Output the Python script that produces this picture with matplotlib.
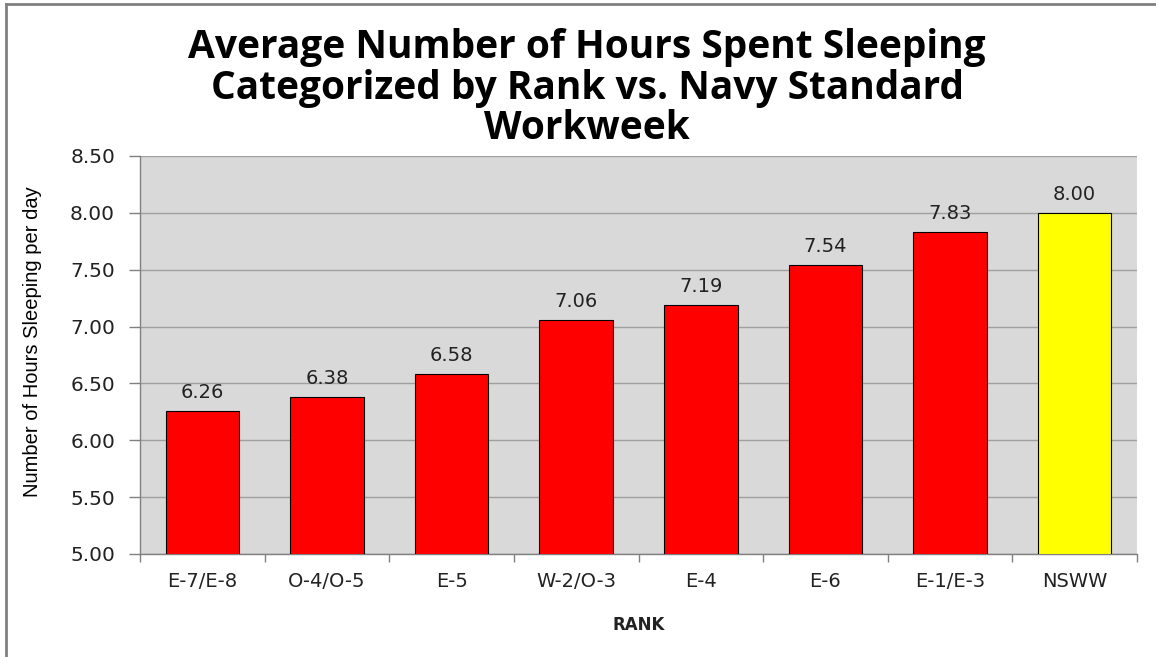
import matplotlib
matplotlib.use("Agg")
import matplotlib.pyplot as plt
from matplotlib.lines import Line2D
import numpy as np

categories = ["E-7/E-8", "O-4/O-5", "E-5", "W-2/O-3", "E-4", "E-6", "E-1/E-3", "NSWW"]
values = [6.26, 6.38, 6.58, 7.06, 7.19, 7.54, 7.83, 8.00]
colors = ["#FF0000"] * 7 + ["#FFFF00"]
yticks = [5.00, 5.50, 6.00, 6.50, 7.00, 7.50, 8.00, 8.50]

fig = plt.figure(figsize=(11.56, 6.57), dpi=100)
fig.patch.set_facecolor("white")

# figure border (left and top visible)
fig.add_artist(Line2D([6/1156, 6/1156], [0, 1 - 4/657], transform=fig.transFigure, color="#808080", lw=2))
fig.add_artist(Line2D([6/1156, 1], [1 - 4/657, 1 - 4/657], transform=fig.transFigure, color="#808080", lw=2))

ax = fig.add_axes([140/1156, 1 - 554/657, (1137 - 140)/1156, (554 - 156)/657])
ax.set_facecolor("#D9D9D9")
x = np.arange(len(categories))
ax.bar(x, values, width=0.59, color=colors, edgecolor="black", linewidth=0.8, zorder=3)
ax.set_ylim(5.0, 8.5)
ax.set_xlim(-0.5, len(categories) - 0.5)
ax.set_yticks(yticks)
ax.set_yticklabels([f"{v:.2f}" for v in yticks], fontsize=14.5, color="#222222", family="DejaVu Sans")
ax.yaxis.grid(True, color="#A0A0A0", linewidth=1.0, zorder=0)
ax.set_axisbelow(True)

ax.set_xticks(x)
ax.set_xticklabels(categories, fontsize=14, color="#222222", family="DejaVu Sans")
ax.tick_params(axis="x", which="major", length=0, pad=13)
ax.set_xticks(np.arange(-0.5, len(categories), 1.0), minor=True)
ax.tick_params(axis="x", which="minor", length=6, color="#808080", width=1)
ax.tick_params(axis="y", length=8, color="#808080", width=1, pad=10)

for s in ["top", "right"]:
    ax.spines[s].set_visible(False)
for s in ["left", "bottom"]:
    ax.spines[s].set_color("#808080")
    ax.spines[s].set_linewidth(1)

for xi, v in zip(x, values):
    ax.text(xi, v + 0.08, f"{v:.2f}", ha="center", va="bottom", fontsize=14,
            color="#222222", family="DejaVu Sans")

ax.set_xlabel("RANK", fontsize=12, fontweight="bold", family="DejaVu Sans", labelpad=18, color="#222222")
ax.set_ylabel("Number of Hours Sleeping per day", fontsize=14.5,
              family=["Liberation Sans Narrow", "Liberation Sans", "DejaVu Sans"], color="black")
ax.yaxis.set_label_coords(-0.098, 0.533)

fig.text(0.508, 1 - 88/657, "Average Number of Hours Spent Sleeping\nCategorized by Rank vs. Navy Standard\nWorkweek",
         ha="center", va="center", fontsize=28, fontweight="bold", family="Open Sans",
         linespacing=1.05, color="black")

fig.savefig("out.png", dpi=100)
